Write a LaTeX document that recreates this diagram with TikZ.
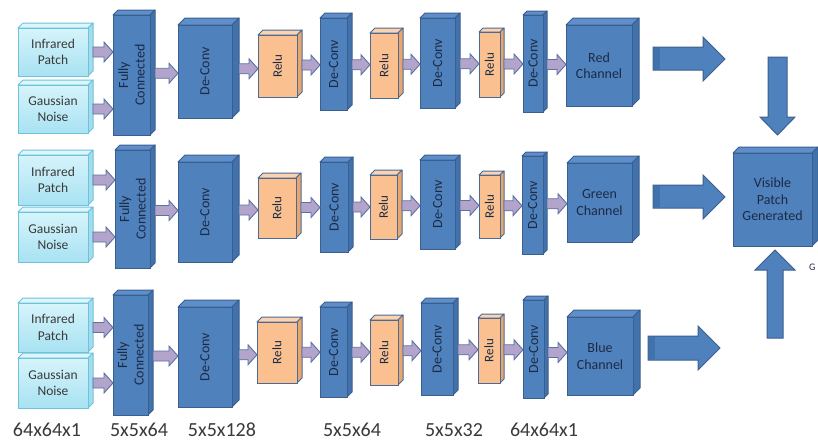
\documentclass[tikz,border=0pt]{standalone}
\usepackage{fontspec}
\setmainfont{Carlito}
\usetikzlibrary{calc}
\definecolor{bfront}{HTML}{4F81BD}
\definecolor{btop}{HTML}{5E8FCB}
\definecolor{bside}{HTML}{4272AC}
\definecolor{bline}{HTML}{3A5F8F}
\definecolor{cfrontT}{HTML}{D6F4FB}
\definecolor{cfrontB}{HTML}{A8E2F2}
\definecolor{ctop}{HTML}{DDF6FC}
\definecolor{cside}{HTML}{A2DCEE}
\definecolor{cline}{HTML}{6EC3DB}
\definecolor{ofront}{HTML}{FAC090}
\definecolor{otop}{HTML}{FCD3AE}
\definecolor{oside}{HTML}{E9A66C}
\definecolor{oline}{HTML}{4A6A98}
\definecolor{afill}{HTML}{B3A4CB}
\definecolor{aline}{HTML}{5A72A2}
\definecolor{navy}{HTML}{1C2B45}
\definecolor{gtext}{HTML}{3A3A3A}
\tikzset{
  bluefront/.style={draw=bline, line width=1pt, fill=bfront, inner sep=0pt, outer sep=0pt},
  bluetop/.style={draw=bline, line width=1pt, fill=btop, line join=round},
  blueside/.style={draw=bline, line width=1pt, fill=bside, line join=round},
  bluetext/.style={text=navy, font=\fontsize{14}{16.5}\selectfont},
  cyanfront/.style={draw=cline, line width=1pt, top color=cfrontT, bottom color=cfrontB, inner sep=0pt, outer sep=0pt},
  cyantop/.style={draw=cline, line width=1pt, fill=ctop, line join=round},
  cyanside/.style={draw=cline, line width=1pt, fill=cside, line join=round},
  cyantext/.style={text=gtext, font=\fontsize{13.5}{16.5}\selectfont},
  orgfront/.style={draw=oline, line width=1pt, fill=ofront, inner sep=0pt, outer sep=0pt},
  orgtop/.style={draw=oline, line width=1pt, fill=otop, line join=round},
  orgside/.style={draw=oline, line width=1pt, fill=oside, line join=round},
  orgtext/.style={text=navy, font=\fontsize{13}{15}\selectfont},
  sarrow/.style={draw=aline, line width=0.9pt, fill=afill, line join=miter},
  bigarrow/.style={draw=bline, line width=1pt, fill=bfront, line join=miter},
  dimlabel/.style={text=gtext, font=\fontsize{20}{24}\selectfont, anchor=base},
}
% name, x1, y1, x2, y2, depth, kind, rotation, text
\newcommand\cube[9]{%
  \filldraw[#7top] (#2,#3) -- (#2+#6,#3-#6) -- (#4+#6,#3-#6) -- (#4,#3) -- cycle;
  \filldraw[#7side] (#4,#3) -- (#4+#6,#3-#6) -- (#4+#6,#5-#6) -- (#4,#5) -- cycle;
  \node[#7front, anchor=north west, minimum width={(#4-#2)*1pt}, minimum height={(#5-#3)*1pt}] (#1) at (#2,#3) {};
  \node[#7text, rotate=#8, align=center, inner sep=0pt] at (#1.center) {#9};
}
% source, depth, target, y (canvas)
\newcommand\sarr[4]{%
  \filldraw[sarrow] let \p1=(#1.east), \p2=(#3.west) in
    ({\x1+#2pt},{#4+5pt}) -- ({\x2-9pt},{#4+5pt}) -- ({\x2-9pt},{#4+10pt}) --
    ({\x2},{#4}) -- ({\x2-9pt},{#4-10pt}) -- ({\x2-9pt},{#4-5pt}) --
    ({\x1+#2pt},{#4-5pt}) -- cycle;
}
\newcommand\chain[9]{%
  \sarr{#1}{5}{#3}{\y1}
  \sarr{#2}{5}{#3}{\y1}
  \sarr{#3}{5}{#4}{(\y1+\y2)/2}
  \sarr{#4}{7}{#5}{(\y1+\y2)/2}
  \sarr{#5}{5}{#6}{(\y1+\y2)/2}
  \sarr{#6}{5}{#7}{(\y1+\y2)/2}
  \sarr{#7}{5}{#8}{(\y1+\y2)/2}
  \sarr{#8}{5}{#9}{(\y1+\y2)/2}
}
\begin{document}
\begin{tikzpicture}[x=1pt,y=-1pt]
\fill[white] (0,0) rectangle (818,442);
\useasboundingbox (0,0) rectangle (818,442);

% ---------- Row 1 ----------
\cube{ira}{18}{28}{88}{76}{5}{cyan}{0}{Infrared\\Patch}
\cube{gna}{18}{85}{88}{133}{5}{cyan}{0}{Gaussian\\Noise}
\cube{fca}{113}{15}{150}{135}{5}{blue}{90}{Fully\\Connected}
\cube{dca}{178}{25}{232}{118}{7}{blue}{90}{De-Conv}
\cube{ra}{258}{35}{297}{97}{5}{org}{90}{Relu}
\cube{dcb}{320}{18}{347}{110}{5}{blue}{90}{De-Conv}
\cube{rb}{370}{33}{398}{98}{5}{org}{90}{Relu}
\cube{dcc}{420}{18}{455}{108}{5}{blue}{90}{De-Conv}
\cube{rc}{479}{32}{500}{97}{4}{org}{90}{Relu}
\cube{dcd}{523}{15}{543}{112}{4}{blue}{90}{De-Conv}
\cube{red}{566}{25}{632}{106}{7}{blue}{0}{Red\\Channel}
\chain{ira}{gna}{fca}{dca}{ra}{dcb}{rb}{dcc}{rc}
\sarr{rc}{4}{dcd}{(\y1+\y2)/2}
\sarr{dcd}{4}{red}{(\y1+\y2)/2}

% ---------- Row 2 ----------
\cube{irb}{18}{155}{88}{205}{5}{cyan}{0}{Infrared\\Patch}
\cube{gnb}{18}{212}{88}{262}{5}{cyan}{0}{Gaussian\\Noise}
\cube{fcb}{115}{150}{150}{268}{5}{blue}{90}{Fully\\Connected}
\cube{dce}{178}{162}{232}{262}{7}{blue}{90}{De-Conv}
\cube{rd}{258}{178}{296}{238}{5}{org}{90}{Relu}
\cube{dcf}{320}{162}{348}{252}{5}{blue}{90}{De-Conv}
\cube{re}{370}{175}{397}{239}{5}{org}{90}{Relu}
\cube{dcg}{420}{160}{455}{249}{5}{blue}{90}{De-Conv}
\cube{rf}{479}{175}{500}{238}{4}{org}{90}{Relu}
\cube{dch}{522}{156}{543}{254}{4}{blue}{90}{De-Conv}
\cube{green}{567}{163}{632}{242}{7}{blue}{0}{Green\\Channel}
\chain{irb}{gnb}{fcb}{dce}{rd}{dcf}{re}{dcg}{rf}
\sarr{rf}{4}{dch}{(\y1+\y2)/2}
\sarr{dch}{4}{green}{(\y1+\y2)/2}

% ---------- Row 3 ----------
\cube{irc}{18}{303}{88}{352}{5}{cyan}{0}{Infrared\\Patch}
\cube{gnc}{18}{358}{88}{408}{5}{cyan}{0}{Gaussian\\Noise}
\cube{fcc}{113}{295}{148}{415}{5}{blue}{90}{Fully\\Connected}
\cube{dci}{178}{307}{232}{407}{7}{blue}{90}{De-Conv}
\cube{rg}{257}{322}{297}{383}{5}{org}{90}{Relu}
\cube{dcj}{320}{307}{347}{397}{5}{blue}{90}{De-Conv}
\cube{rh}{370}{320}{398}{385}{5}{org}{90}{Relu}
\cube{dck}{421}{303}{453}{395}{5}{blue}{90}{De-Conv}
\cube{ri}{478}{318}{500}{383}{4}{org}{90}{Relu}
\cube{dcl}{523}{300}{544}{398}{4}{blue}{90}{De-Conv}
\cube{blue}{567}{317}{633}{395}{7}{blue}{0}{Blue\\Channel}
\chain{irc}{gnc}{fcc}{dci}{rg}{dcj}{rh}{dck}{ri}
\sarr{ri}{4}{dcl}{(\y1+\y2)/2}
\sarr{dcl}{4}{blue}{(\y1+\y2)/2}

% ---------- Output ----------
\cube{vis}{733}{153}{812}{246}{6}{blue}{0}{Visible\\Patch\\Generated}
\node[text=navy, font=\fontsize{10}{12}\selectfont, anchor=west, inner sep=0pt] (gl) at (809,267) {G};

% big arrows
\filldraw[bigarrow] (653,47) -- (703,47) -- (703,37) -- (725,59) -- (703,81) -- (703,70) -- (653,70) -- cycle;
\fill[bside] (653.5,47.5) rectangle (660,69.5);
\filldraw[bigarrow] (653,185) -- (703,185) -- (703,175) -- (725,197) -- (703,219) -- (703,208) -- (653,208) -- cycle;
\fill[bside] (653.5,185.5) rectangle (660,207.5);
\filldraw[bigarrow] (648,336) -- (698,336) -- (698,326) -- (720,348) -- (698,370) -- (698,360) -- (648,360) -- cycle;
\fill[bside] (648.5,336.5) rectangle (655,359.5);
\filldraw[bigarrow] (768,57) -- (787,57) -- (787,117) -- (795,117) -- (777.5,135) -- (760,117) -- (768,117) -- cycle;
\filldraw[bigarrow] (767,338) -- (767,270) -- (755,270) -- (775,250) -- (795,270) -- (783,270) -- (783,338) -- cycle;

% dimension labels
\node[dimlabel] (l1) at (47,436) {64x64x1};
\node[dimlabel] (l2) at (139,436) {5x5x64};
\node[dimlabel] (l3) at (222,436) {5x5x128};
\node[dimlabel] (l4) at (352,436) {5x5x64};
\node[dimlabel] (l5) at (454,436) {5x5x32};
\node[dimlabel] (l6) at (544,436) {64x64x1};
\end{tikzpicture}
\end{document}
